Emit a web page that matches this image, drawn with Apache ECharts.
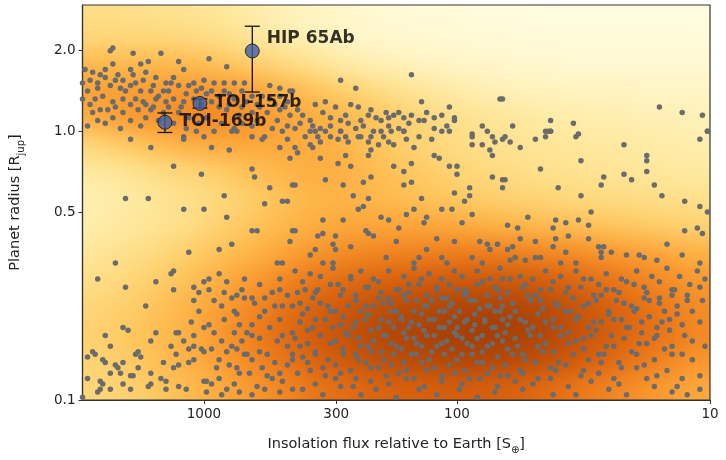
<!DOCTYPE html>
<html>
<head>
<meta charset="utf-8">
<script src="https://cdn.jsdelivr.net/npm/echarts@6/dist/echarts.min.js"></script>
<style>
html, body { margin: 0; padding: 0; background: #fff; }
#wrap { position: relative; width: 726px; height: 460px; overflow: hidden; }
#clip { position: absolute; left: 82px; top: 5px; width: 628px; height: 395px; overflow: hidden; }
#heat { position: absolute; left: -40px; top: -40px; width: 708px; height: 475px; filter: blur(11px); }
#main { position: absolute; left: 0; top: 0; width: 726px; height: 460px; }
</style>
</head>
<body>
<div id="wrap"><div id="clip"><div id="heat"></div></div><div id="main"></div></div>
<script>
// tick labels
var fluxTicks = [1000, 300, 100, 10];
var radiusTicks = [0.1, 0.5, 1.0, 2.0];

// density shading (0..10), rows = log10 radius 0.45 .. -0.95, cols = log10 flux 3.45 .. 1.05
var densityRows = [
  [2.5,2.5,2.4,2.3,2.2,2,1.7,1.4,1.1,0.9,0.7,0.5,0.4,0.3,0.3,0.2,0.2,0.2,0.1,0.1,0.1,0.1,0.1,0.1,0.1],
  [3,3,3,3,2.8,2.6,2.2,1.8,1.4,1.1,0.9,0.7,0.6,0.5,0.5,0.4,0.4,0.3,0.3,0.3,0.3,0.3,0.3,0.3,0.3],
  [4.5,4.5,4.5,4.5,4.4,4.1,3.7,3.2,2.7,2.2,1.7,1.4,1.2,1,0.9,0.8,0.7,0.6,0.6,0.5,0.5,0.5,0.5,0.5,0.5],
  [5.5,5.6,5.7,5.8,6,6,5.7,5.2,4.6,4,3.5,3,2.5,2.1,1.8,1.5,1.3,1.2,1.1,1,1,1,0.9,0.9,0.9],
  [5,5.5,6,6.2,6.5,6.5,6.2,5.7,5.2,5,4.6,4.1,3.6,3.1,2.6,2.3,2.1,1.9,1.7,1.6,1.5,1.4,1.3,1.3,1.2],
  [3,3.5,4,4.5,4.9,5.1,5.2,5.2,5.1,5,4.6,4.1,3.6,3.2,2.9,2.6,2.4,2.2,2.1,2,1.9,1.8,1.7,1.6,1.5],
  [1.8,2,2.4,2.8,3.1,3.5,4,4.4,4.8,5,4.9,4.5,4.1,3.7,3.3,3,2.8,2.6,2.4,2.3,2.2,2.1,2,1.9,1.8],
  [1.4,1.6,1.9,2.2,2.5,2.9,3.3,3.8,4.3,4.6,4.7,4.6,4.4,4.1,3.9,3.6,3.4,3.2,3.1,2.9,2.8,2.7,2.6,2.5,2.4],
  [1.5,1.8,2,2.3,2.7,3.2,3.7,4.2,4.6,5,5.2,5.3,5.3,5.3,5.2,5,4.8,4.6,4.4,4.2,4,3.8,3.6,3.4,3.2],
  [2,2.3,2.6,3,3.5,4,4.5,5,5.5,6,6.3,6.5,6.6,6.7,6.8,6.8,6.8,6.7,6.5,6.3,6,5.7,5.4,5.1,4.8],
  [2.5,2.8,3.2,3.7,4.2,4.8,5.5,6,6.7,7.2,7.5,7.8,8,8.2,8.3,8.4,8.4,8.3,8.1,7.8,7.4,7,6.6,6.2,5.8],
  [3,3.3,3.7,4.2,4.8,5.5,6.2,6.8,7.5,8,8.5,8.8,9.1,9.3,9.5,9.6,9.6,9.5,9.2,8.8,8.3,7.8,7.3,6.8,6.3],
  [3.3,3.6,4,4.5,5,5.7,6.5,7.2,7.8,8.4,8.8,9.2,9.5,9.7,9.9,10,10,9.8,9.5,9,8.5,8,7.5,7,6.5],
  [3.2,3.5,3.9,4.4,4.9,5.5,6.2,6.8,7.4,8,8.4,8.8,9.1,9.3,9.4,9.5,9.4,9.2,8.9,8.5,8,7.5,7,6.5,6],
  [3,3.2,3.5,4,4.5,5,5.6,6.2,6.7,7.2,7.5,7.8,8,8.1,8.2,8.2,8.1,7.9,7.6,7.2,6.8,6.4,6,5.6,5.2]
];

// planets as [log10 flux, log10 radius]
var giants = [
  [3.36,0.31],[3.37,0.30],[3.28,0.29],[3.17,0.29],[3.22,0.26],[3.10,0.26],[2.98,0.27],[2.91,0.24],[3.25,0.25],[3.29,0.23],
  [3.36,0.25],[3.39,0.23],[3.44,0.22],[3.47,0.23],[3.48,0.18],[3.42,0.18],[3.39,0.20],[3.34,0.21],[3.32,0.19],[3.28,0.21],
  [3.23,0.22],[3.19,0.20],[3.15,0.18],[3.12,0.20],[3.08,0.23],[3.04,0.18],[3.00,0.19],[2.96,0.18],[2.92,0.18],[2.88,0.18],
  [2.84,0.18],[3.46,0.15],[3.42,0.16],[3.37,0.17],[3.33,0.16],[3.29,0.17],[3.25,0.15],[3.21,0.15],[3.18,0.13],[3.14,0.15],
  [3.10,0.17],[3.07,0.14],[3.03,0.15],[2.99,0.14],[2.92,0.15],[2.88,0.12],[2.74,0.17],[2.70,0.16],[2.66,0.15],[3.48,0.12],
  [3.43,0.12],[3.40,0.13],[3.36,0.11],[3.32,0.12],[3.27,0.12],[3.23,0.10],[3.19,0.12],[3.15,0.11],[3.12,0.12],[3.08,0.11],
  [3.04,0.12],[2.77,0.13],[2.74,0.12],[2.70,0.13],[2.67,0.11],[3.44,0.07],[3.38,0.08],[3.32,0.07],[3.26,0.08],[3.21,0.08],
  [3.16,0.07],[3.10,0.07],[3.06,0.05],[2.91,0.08],[2.86,0.06],[2.81,0.07],[2.75,0.07],[2.70,0.08],[2.66,0.06],[3.46,0.02],
  [3.39,0.03],[3.33,0.01],[3.25,0.02],[3.07,0.01],[3.02,0.03],[2.96,0.00],[2.88,0.01],[2.81,0.02],[2.73,0.01],[2.67,0.02],
  [2.46,0.19],[2.40,0.16],[2.18,0.21],[2.14,0.11],[2.03,0.09],[1.83,0.12],[2.65,0.15],[2.56,0.10],[2.52,0.11],[2.48,0.09],
  [2.42,0.10],[2.39,0.09],[2.34,0.08],[2.32,0.05],[2.30,0.04],[2.27,0.05],[2.25,0.06],[2.23,0.07],[2.21,0.05],[2.19,0.03],
  [2.15,0.04],[2.13,0.04],[2.09,0.05],[2.01,0.05],[2.01,0.04],[2.04,0.02],[2.09,0.01],[1.90,0.02],[1.94,-0.01],[2.53,0.07],
  [2.50,0.05],[2.46,0.04],[2.43,0.03],[2.58,0.04],[2.61,0.06],[2.63,0.08],[2.64,0.01],[2.58,0.00],[2.54,0.01],[2.52,0.00],
  [2.46,0.00],[2.40,0.01],[2.37,0.02],[2.33,0.00],[2.27,0.02],[2.23,0.01],[2.21,0.00],[2.30,0.00],
  [1.82,0.12],[1.78,0.02],[1.63,0.04],[1.65,0.00],[1.63,0.00],[1.54,0.03],[1.52,-0.01],[1.20,0.09],[1.11,0.07],[1.03,0.06],[1.01,0.00]
];
var giantsCore = [
  [3.45,0.19],[3.41,0.21],[3.35,0.19],[3.31,0.15],[3.27,0.18],[3.24,0.19],[3.20,0.17],[3.16,0.15],[3.13,0.18],[3.06,0.17],
  [3.01,0.16],[2.97,0.15],[2.94,0.13],[2.90,0.14],[2.85,0.15],[2.81,0.13],[2.79,0.10],[2.72,0.10],[2.68,0.09],[3.45,0.10],
  [3.41,0.08],[3.35,0.09],[3.29,0.10],[3.24,0.11],[3.20,0.09],[3.14,0.09],[3.09,0.09],[3.01,0.10],[2.97,0.11],[2.94,0.09],
  [2.90,0.10],[2.85,0.09],[2.83,0.11],[2.78,0.09],[3.42,0.04],[3.36,0.05],[3.29,0.04],[3.23,0.05],[3.18,0.04],[3.12,0.03],
  [2.99,0.05],[2.93,0.03],[2.85,0.03],[2.79,0.04],[2.71,0.04],[2.62,0.03],[2.57,0.02],[2.50,0.02],[2.44,0.06],[2.38,0.04],
  [2.35,0.06],[2.28,0.07],[2.18,0.06],[2.12,0.07],[2.06,0.06],[2.43,-0.04],[2.50,-0.02],[2.29,-0.02],[2.20,-0.03],[2.10,-0.03]
];
var desert = [
  [3.29,-0.03],[3.21,-0.06],[3.08,-0.02],[3.08,-0.03],[3.03,0.00],[3.00,-0.02],[2.97,-0.06],[2.90,-0.07],[2.89,0.00],[2.87,0.00],
  [2.81,-0.02],[2.77,-0.03],[2.76,-0.02],[2.70,-0.06],[2.69,0.00],[2.67,-0.03],[2.66,-0.10],[3.12,-0.13],[3.01,-0.16],[2.81,-0.14],
  [2.80,-0.17],[2.74,-0.21],[2.65,-0.20],[3.31,-0.25],[3.22,-0.25],[2.92,-0.24],[3.08,-0.29],[3.00,-0.29],[2.76,-0.27],[2.69,-0.26],
  [2.67,-0.26],[2.91,-0.32],[2.81,-0.37],[2.79,-0.37],[2.65,-0.37],[2.66,-0.41],[2.89,-0.42],[2.94,-0.44],[3.06,-0.45],[3.35,-0.49],
  [2.71,-0.49],[2.69,-0.49],
  [2.60,-0.02],[2.56,0.00],[2.55,-0.02],[2.54,-0.04],[2.58,-0.05],[2.57,-0.06],[2.64,-0.06],[2.63,-0.08],[2.46,0.00],[2.47,-0.03],
  [2.44,-0.02],[2.39,-0.02],[2.38,-0.02],[2.34,-0.02],[2.35,-0.04],[2.31,-0.05],[2.35,-0.09],[2.34,-0.07],[2.27,-0.04],[2.25,-0.05],
  [2.26,0.00],[2.21,0.00],[2.17,-0.06],[2.15,-0.02],[2.06,0.00],[2.03,0.00],[1.94,-0.02],[1.94,-0.05],[1.90,-0.05],[1.88,0.00],
  [1.86,-0.02],[1.85,-0.04],[1.87,-0.07],[1.86,-0.09],[2.54,-0.10],[2.44,-0.09],[2.47,-0.12],[2.42,-0.13],[2.25,-0.13],[2.21,-0.15],
  [2.18,-0.12],[2.09,-0.09],[2.07,-0.10],[2.03,-0.13],[2.00,-0.13],[2.00,-0.16],[1.86,-0.17],[1.82,-0.18],[2.64,-0.20],[2.52,-0.18],
  [2.45,-0.20],[2.37,-0.19],[2.34,-0.17],[2.21,-0.20],[2.18,-0.19],[2.01,-0.23],[1.95,-0.21],[1.95,-0.24],[2.41,-0.24],[2.35,-0.25],
  [2.37,-0.28],[2.39,-0.29],[2.14,-0.25],[2.17,-0.29],[2.20,-0.31],[2.06,-0.29],[2.02,-0.29],[1.97,-0.26],[1.94,-0.31],[2.53,-0.33],
  [2.45,-0.33],[2.30,-0.32],[2.27,-0.33],[2.12,-0.32],[2.13,-0.34],[1.98,-0.34],[2.64,-0.37],[2.55,-0.39],[2.53,-0.38],[2.48,-0.39],
  [2.36,-0.37],[2.35,-0.38],[2.33,-0.39],[2.23,-0.36],[2.08,-0.40],[2.01,-0.41],[1.91,-0.41],[1.88,-0.42],[2.49,-0.42],[2.48,-0.44],
  [2.42,-0.43],[2.24,-0.41],[2.58,-0.46],[2.56,-0.44],[1.87,-0.44],[1.84,-0.42],[2.12,-0.44],[2.28,-0.47],[2.17,-0.49],[2.15,-0.47],
  [2.06,-0.47],[2.04,-0.49],[1.94,-0.47],[1.90,-0.49],[2.53,-0.49],[2.49,-0.49],
  [1.82,-0.03],[1.81,-0.02],[1.79,-0.04],[1.75,-0.06],[1.69,-0.03],[1.65,-0.02],[1.64,0.00],[1.63,0.00],[1.53,-0.02],[1.34,-0.05],
  [1.04,-0.03],[1.01,0.00],[1.25,-0.09],[1.25,-0.11],[1.51,-0.11],[1.67,-0.14],[1.42,-0.17],[1.43,-0.20],[1.34,-0.16],[1.31,-0.18],
  [1.25,-0.15],[1.81,-0.18],[1.82,-0.21],[1.60,-0.21],[1.51,-0.24],[1.22,-0.20],[1.19,-0.24],[1.10,-0.26],[1.04,-0.28],[1.01,-0.30],
  [1.47,-0.30],[1.72,-0.32],[1.52,-0.33],[1.61,-0.33],[1.57,-0.34],[1.80,-0.35],[1.76,-0.36],[1.62,-0.36],[1.48,-0.35],[1.10,-0.37],
  [1.05,-0.36],[1.03,-0.38],[1.75,-0.40],[1.69,-0.41],[1.61,-0.40],[1.56,-0.39],[1.48,-0.40],[1.17,-0.42],[1.80,-0.44],[1.78,-0.43],
  [1.62,-0.43],[1.44,-0.43],[1.42,-0.43],[1.43,-0.45],[1.43,-0.47],[1.39,-0.45],[1.33,-0.46],[1.28,-0.46],[1.26,-0.47],[1.11,-0.46],
  [1.57,-0.45],[1.79,-0.48],[1.77,-0.47],[1.73,-0.48],[1.69,-0.47],[1.67,-0.47],[1.59,-0.49],[1.53,-0.49],[1.21,-0.48],[1.04,-0.49]
];
var smallPlanets = [
  [3.42,-0.55],[3.31,-0.58],[3.19,-0.56],[3.13,-0.53],[3.12,-0.52],[3.12,-0.59],[3.04,-0.58],[3.02,-0.60],[3.00,-0.56],[2.98,-0.55],
  [2.98,-0.59],[2.94,-0.53],[2.91,-0.56],[2.84,-0.55],[3.04,-0.63],[3.23,-0.65],[2.93,-0.65],[3.02,-0.67],[2.89,-0.62],[2.87,-0.61],
  [2.84,-0.62],[2.81,-0.62],[2.88,-0.67],[2.87,-0.68],[2.76,-0.62],[2.76,-0.67],[2.73,-0.60],[2.70,-0.59],[2.67,-0.61],[2.69,-0.65],
  [2.81,-0.72],[2.83,-0.75],[2.81,-0.76],[3.05,-0.71],[3.32,-0.73],[3.30,-0.74],[3.39,-0.76],[3.19,-0.75],[3.21,-0.78],[3.11,-0.75],
  [3.10,-0.75],[3.04,-0.76],[3.00,-0.73],[2.98,-0.72],[2.96,-0.75],[2.88,-0.75],[3.46,-0.84],[3.44,-0.82],[3.43,-0.83],[3.40,-0.85],
  [3.39,-0.86],[3.37,-0.80],[3.35,-0.87],[3.32,-0.86],[3.26,-0.82],[3.25,-0.84],[3.27,-0.83],[3.11,-0.83],[3.06,-0.81],[3.04,-0.80],
  [3.01,-0.81],[3.00,-0.82],[2.97,-0.81],[2.94,-0.85],[2.91,-0.82],[2.89,-0.80],[2.87,-0.81],[2.84,-0.83],[2.83,-0.83],[2.81,-0.85],
  [2.78,-0.82],[2.75,-0.83],[2.71,-0.78],[2.69,-0.76],[2.67,-0.80],[2.65,-0.75],[2.65,-0.83],[3.46,-0.92],[3.37,-0.90],[3.33,-0.90],
  [3.29,-0.91],[3.28,-0.91],[3.26,-0.88],[3.21,-0.90],[3.17,-0.92],[3.12,-0.88],[3.10,-0.87],[3.06,-0.86],[3.04,-0.85],[3.34,-0.88],
  [3.41,-0.93],[3.40,-0.94],[3.42,-0.97],[3.41,-0.96],[3.37,-0.96],[3.32,-0.94],[3.29,-0.96],[3.22,-0.95],[3.21,-0.94],[3.15,-0.93],
  [3.15,-0.96],[3.10,-0.95],[3.07,-0.96],[3.00,-0.93],[2.99,-0.93],[2.97,-0.94],[2.94,-0.92],[2.91,-0.96],[2.88,-0.94],[2.86,-0.97],
  [2.81,-0.98],[2.79,-0.95],[2.75,-0.91],[2.73,-0.92],[2.70,-0.90],[2.69,-0.93],[2.67,-0.87],[2.65,-0.85],[2.90,-0.87],[2.87,-0.88],
  [2.86,-0.90],[2.70,-0.97],[2.65,-0.96],[3.48,-0.99],
  [2.64,-0.52],[2.58,-0.53],[2.54,-0.54],[2.49,-0.51],[2.42,-0.54],[2.38,-0.52],[2.33,-0.55],[2.27,-0.52],[2.21,-0.54],[2.17,-0.51],
  [2.11,-0.53],[2.06,-0.55],[2.01,-0.52],[1.98,-0.54],[1.92,-0.52],[1.87,-0.55],[1.83,-0.51],
  [2.63,-0.60],[2.60,-0.59],[2.56,-0.60],[2.50,-0.57],[2.45,-0.59],[2.40,-0.61],[2.35,-0.58],[2.30,-0.60],[2.27,-0.62],[2.23,-0.59],
  [2.19,-0.60],[2.15,-0.57],[2.12,-0.61],[2.08,-0.59],[2.04,-0.62],[2.00,-0.59],[1.96,-0.60],[1.92,-0.57],[1.88,-0.61],[1.84,-0.59],
  [2.65,-0.65],[2.59,-0.66],[2.54,-0.64],[2.48,-0.67],[2.43,-0.65],[2.38,-0.67],[2.33,-0.65],[2.29,-0.64],[2.24,-0.67],[2.20,-0.63],
  [2.17,-0.67],[2.13,-0.65],[2.10,-0.63],[2.07,-0.67],[2.03,-0.65],[1.99,-0.67],[1.95,-0.63],[1.91,-0.66],[1.87,-0.65],[1.83,-0.67],
  [2.62,-0.71],[2.57,-0.73],[2.52,-0.70],[2.46,-0.72],[2.41,-0.73],[2.36,-0.70],[2.31,-0.73],[2.27,-0.71],[2.22,-0.70],[2.19,-0.73],
  [2.15,-0.72],[2.11,-0.70],[2.07,-0.73],[2.03,-0.71],[2.00,-0.73],[1.96,-0.70],[1.93,-0.72],[1.89,-0.71],[1.85,-0.73],[1.82,-0.70],
  [2.64,-0.77],[2.59,-0.79],[2.54,-0.76],[2.48,-0.78],[2.43,-0.76],[2.38,-0.80],[2.33,-0.78],[2.28,-0.76],[2.24,-0.80],[2.20,-0.77],
  [2.16,-0.79],[2.12,-0.76],[2.08,-0.80],[2.04,-0.78],[2.00,-0.76],[1.96,-0.79],[1.92,-0.77],[1.88,-0.80],[1.84,-0.76],
  [2.61,-0.84],[2.56,-0.83],[2.51,-0.85],[2.45,-0.83],[2.39,-0.85],[2.34,-0.82],[2.29,-0.85],[2.25,-0.83],[2.21,-0.86],[2.16,-0.83],
  [2.11,-0.85],[2.05,-0.83],[2.00,-0.85],[1.94,-0.83],[1.90,-0.86],[1.84,-0.84],
  [2.63,-0.90],[2.58,-0.89],[2.52,-0.91],[2.46,-0.90],[2.40,-0.92],[2.34,-0.88],[2.28,-0.91],[2.23,-0.90],[2.17,-0.92],[2.12,-0.89],
  [2.06,-0.91],[2.01,-0.90],[1.95,-0.92],[1.88,-0.90],[1.83,-0.91],
  [2.61,-0.96],[2.53,-0.98],[2.46,-0.95],[2.38,-0.98],[2.32,-0.96],[2.24,-0.99],[2.15,-0.96],[2.08,-0.98],[1.99,-0.96],[1.92,-0.99],[1.85,-0.97],
  [1.82,-0.55],[1.75,-0.54],[1.70,-0.55],[1.65,-0.52],[1.59,-0.54],[1.53,-0.52],[1.47,-0.55],[1.41,-0.53],[1.35,-0.55],[1.29,-0.52],
  [1.23,-0.54],[1.17,-0.51],[1.12,-0.54],[1.05,-0.52],[1.02,-0.55],
  [1.80,-0.60],[1.74,-0.58],[1.69,-0.61],[1.63,-0.59],[1.57,-0.60],[1.51,-0.58],[1.46,-0.61],[1.41,-0.59],[1.36,-0.60],[1.30,-0.57],
  [1.25,-0.60],[1.20,-0.62],[1.15,-0.59],[1.09,-0.61],[1.04,-0.58],
  [1.82,-0.65],[1.77,-0.67],[1.71,-0.63],[1.66,-0.66],[1.61,-0.64],[1.55,-0.67],[1.50,-0.65],[1.45,-0.63],[1.40,-0.67],[1.34,-0.64],
  [1.29,-0.66],[1.24,-0.63],[1.18,-0.67],[1.13,-0.65],[1.07,-0.67],[1.03,-0.63],
  [1.80,-0.72],[1.75,-0.70],[1.70,-0.73],[1.65,-0.71],[1.59,-0.73],[1.53,-0.70],[1.48,-0.73],[1.43,-0.71],[1.38,-0.70],[1.32,-0.73],
  [1.27,-0.71],[1.21,-0.73],[1.16,-0.70],[1.11,-0.72],[1.04,-0.71],
  [1.82,-0.78],[1.76,-0.80],[1.71,-0.76],[1.65,-0.79],[1.59,-0.76],[1.53,-0.78],[1.47,-0.76],[1.41,-0.80],[1.34,-0.77],[1.28,-0.79],
  [1.21,-0.76],[1.15,-0.80],[1.07,-0.78],[1.02,-0.80],
  [1.78,-0.83],[1.73,-0.85],[1.66,-0.82],[1.60,-0.86],[1.54,-0.83],[1.48,-0.85],[1.42,-0.83],[1.36,-0.86],[1.29,-0.83],[1.22,-0.85],
  [1.15,-0.83],[1.07,-0.85],
  [1.80,-0.91],[1.74,-0.90],[1.68,-0.92],[1.61,-0.89],[1.51,-0.91],[1.44,-0.90],[1.38,-0.92],[1.29,-0.88],[1.21,-0.91],[1.11,-0.92],[1.04,-0.91],
  [1.74,-0.96],[1.62,-0.98],[1.53,-0.98],[1.40,-0.96],[1.33,-0.98],[1.22,-0.95],[1.15,-0.97],[1.09,-0.98],[1.04,-0.96]
];
var smallCore = [
  [2.61,-0.56],[2.55,-0.59],[2.47,-0.57],[2.42,-0.55],[2.36,-0.58],[2.31,-0.56],[2.24,-0.59],[2.19,-0.57],[2.14,-0.55],[2.08,-0.58],
  [2.03,-0.57],[1.97,-0.59],[1.90,-0.56],[1.85,-0.58],[1.79,-0.55],[1.73,-0.57],[1.67,-0.59],[1.62,-0.56],[1.56,-0.58],[1.50,-0.55],
  [1.44,-0.57],[1.38,-0.59],[1.33,-0.56],[1.26,-0.58],[1.20,-0.56],[1.14,-0.59],[1.08,-0.57],
  [2.62,-0.64],[2.57,-0.62],[2.51,-0.65],[2.46,-0.61],[2.40,-0.63],[2.36,-0.65],[2.31,-0.62],[2.26,-0.64],[2.21,-0.61],[2.16,-0.63],
  [2.12,-0.65],[2.06,-0.62],[2.02,-0.64],[1.97,-0.61],[1.93,-0.63],[1.88,-0.65],[1.83,-0.62],[1.78,-0.64],[1.72,-0.61],[1.67,-0.63],
  [1.60,-0.65],[1.54,-0.62],[1.48,-0.64],[1.43,-0.61],[1.37,-0.63],[1.31,-0.65],[1.26,-0.62],[1.20,-0.64],[1.15,-0.61],[1.09,-0.63],
  [2.61,-0.68],[2.56,-0.70],[2.50,-0.67],[2.45,-0.69],[2.40,-0.71],[2.35,-0.68],[2.30,-0.70],[2.26,-0.67],[2.22,-0.69],[2.18,-0.71],
  [2.14,-0.68],[2.09,-0.70],[2.05,-0.67],[2.01,-0.69],[1.97,-0.71],[1.93,-0.68],[1.89,-0.70],[1.85,-0.67],[1.79,-0.69],[1.73,-0.71],
  [1.68,-0.68],[1.62,-0.70],[1.57,-0.67],[1.52,-0.69],[1.46,-0.71],[1.40,-0.68],[1.35,-0.70],[1.30,-0.67],[1.24,-0.69],[1.19,-0.71],[1.13,-0.68],
  [2.59,-0.74],[2.54,-0.76],[2.49,-0.73],[2.44,-0.75],[2.39,-0.77],[2.34,-0.74],[2.29,-0.76],[2.25,-0.73],[2.21,-0.75],[2.17,-0.77],
  [2.13,-0.74],[2.09,-0.76],[2.05,-0.73],[2.01,-0.75],[1.98,-0.77],[1.94,-0.74],[1.90,-0.76],[1.86,-0.73],[1.81,-0.75],[1.77,-0.77],
  [1.72,-0.74],[1.67,-0.76],[1.62,-0.73],[1.56,-0.75],[1.50,-0.77],[1.45,-0.74],[1.39,-0.76],[1.33,-0.73],[1.27,-0.75],[1.22,-0.77],[1.16,-0.74],[1.10,-0.76],
  [2.62,-0.80],[2.56,-0.82],[2.50,-0.79],[2.45,-0.81],[2.40,-0.83],[2.35,-0.80],[2.30,-0.82],[2.26,-0.79],[2.22,-0.81],[2.18,-0.83],
  [2.14,-0.80],[2.10,-0.82],[2.06,-0.79],[2.02,-0.81],[1.98,-0.83],[1.94,-0.80],[1.90,-0.82],[1.86,-0.79],[1.80,-0.81],[1.74,-0.83],
  [1.68,-0.80],[1.62,-0.82],[1.56,-0.79],[1.50,-0.81],[1.44,-0.83],[1.38,-0.80],[1.31,-0.82],[1.25,-0.79],[1.18,-0.81],[1.11,-0.83],
  [2.59,-0.86],[2.53,-0.88],[2.48,-0.87],[2.42,-0.89],[2.36,-0.86],[2.31,-0.88],[2.26,-0.87],[2.20,-0.89],[2.14,-0.86],[2.09,-0.88],
  [2.03,-0.87],[1.97,-0.89],[1.92,-0.86],[1.86,-0.88],[1.81,-0.87],[1.75,-0.89],[1.69,-0.86],[1.63,-0.88],[1.57,-0.87],[1.50,-0.89],
  [1.43,-0.86],[1.35,-0.88],[1.26,-0.87],[1.17,-0.89],
  [2.56,-0.94],[2.48,-0.92],[2.41,-0.95],[2.34,-0.93],[2.27,-0.94],[2.20,-0.92],[2.13,-0.95],[2.06,-0.93],[1.98,-0.94],[1.91,-0.92],
  [1.84,-0.95],[1.77,-0.93],[1.70,-0.94],[1.63,-0.92],[1.56,-0.95],[1.47,-0.93],[1.36,-0.94],[1.25,-0.92],[1.13,-0.95],
  [2.92,-0.70],[2.86,-0.72],[2.78,-0.69],[2.74,-0.73],[2.70,-0.70],[2.93,-0.78],[2.85,-0.78],[2.78,-0.77],[2.72,-0.86],[2.77,-0.88],
  [2.82,-0.90],[2.95,-0.88],[2.99,-0.97],[2.93,-0.98],[2.76,-0.96],[2.80,-0.64],[2.72,-0.65],[2.85,-0.59],[2.78,-0.57],[2.70,-0.55],
  [2.96,-0.63],[2.92,-0.60],[3.08,-0.78],[3.13,-0.80],[3.16,-0.86]
];

// highlighted planets
var planetNames = ['HIP 65Ab', 'TOI-157b', 'TOI-169b'];
var planetFlux = [644, 1037, 1426];
var planetRadius = [1.99, 1.27, 1.08];
var radiusLow = [1.40, 1.22, 0.99];
var radiusHigh = [2.46, 1.32, 1.17];

var font = 'DejaVu Sans';
var lg = Math.log10;

// ---- background density, blurred underneath the main chart ----
var heat = echarts.init(document.getElementById('heat'));
var cells = [];
densityRows.forEach(function (row, j) {
  row.forEach(function (v, i) {
    cells.push([3.45 - 0.1 * i, 0.45 - 0.1 * j, v, i, j]);
  });
});
heat.setOption({
  animation: false,
  grid: { left: 40, top: 40, width: 628, height: 395 },
  xAxis: { type: 'value', min: 1, max: 3.48, inverse: true, show: false },
  yAxis: { type: 'value', min: -1, max: 0.47, show: false },
  visualMap: {
    show: false, min: 0, max: 10, dimension: 2, seriesIndex: 0,
    inRange: { color: ['#fffde3', '#fff3c0', '#fee79a', '#fed77a', '#fec45a', '#fdad40', '#f8952c', '#ec7a1a', '#d9620e', '#c04f08', '#a43e05'] }
  },
  series: [{
    type: 'custom',
    clip: false,
    data: cells,
    encode: { x: 0, y: 1 },
    renderItem: function (params, api) {
      var i = api.value(3), j = api.value(4);
      var a = api.coord([3.5 - 0.1 * i, 0.5 - 0.1 * j]);
      var b = api.coord([3.4 - 0.1 * i, 0.4 - 0.1 * j]);
      var x0 = Math.min(a[0], b[0]), x1 = Math.max(a[0], b[0]);
      var y0 = Math.min(a[1], b[1]), y1 = Math.max(a[1], b[1]);
      if (i === 0) x0 -= 40;
      if (i === densityRows[0].length - 1) x1 += 40;
      if (j === 0) y0 -= 40;
      if (j === densityRows.length - 1) y1 += 40;
      return {
        type: 'rect',
        shape: { x: x0, y: y0, width: x1 - x0 + 1, height: y1 - y0 + 1 },
        style: { fill: api.visual('color') }
      };
    }
  }]
});

// ---- main chart ----
var chart = echarts.init(document.getElementById('main'));

function dots(data) {
  return {
    type: 'scatter',
    data: data,
    symbolSize: 5.5,
    itemStyle: { color: '#6b6b6b', opacity: 1 },
    silent: true
  };
}

var errData = planetNames.map(function (n, k) {
  return [lg(planetFlux[k]), lg(radiusLow[k]), lg(radiusHigh[k])];
});
var planetData = planetNames.map(function (n, k) {
  return {
    name: n,
    value: [lg(planetFlux[k]), lg(planetRadius[k])],
    label: { offset: k === 0 ? [0, -12] : [0, -1] }
  };
});

var richName = {
  a: { fontSize: 14.5, color: '#222', fontFamily: font, lineHeight: 22 },
  s: { fontSize: 10, color: '#222', fontFamily: font, lineHeight: 12, verticalAlign: 'bottom' }
};

chart.setOption({
  animation: false,
  textStyle: { fontFamily: font },
  grid: { left: 82, top: 5, width: 628, height: 395, show: true, borderColor: '#333', borderWidth: 1.2, backgroundColor: 'transparent' },
  xAxis: {
    type: 'value', min: 1, max: 3.48, inverse: true,
    name: '{a|Insolation flux relative to Earth [S}{s|⊕}{a|]}',
    nameLocation: 'middle', nameGap: 33,
    nameTextStyle: { rich: richName },
    axisLine: { show: true, onZero: false, lineStyle: { color: '#333', width: 1.2 } },
    axisTick: { show: true, length: 4, customValues: fluxTicks.map(lg), lineStyle: { color: '#333' } },
    axisLabel: {
      customValues: fluxTicks.map(lg), fontSize: 13.5, color: '#222', margin: 7, fontFamily: font,
      formatter: function (v) { return String(Math.round(Math.pow(10, v))); }
    },
    splitLine: { show: false }
  },
  yAxis: {
    type: 'value', min: -1, max: 0.47,
    name: '{a|Planet radius [R}{s|jup}{a|]}',
    nameLocation: 'middle', nameGap: 56,
    nameTextStyle: { rich: richName },
    axisLine: { show: true, onZero: false, lineStyle: { color: '#333', width: 1.2 } },
    axisTick: { show: true, length: 4, customValues: radiusTicks.map(lg), lineStyle: { color: '#333' } },
    axisLabel: {
      customValues: radiusTicks.map(lg), fontSize: 13.5, color: '#222', margin: 7, fontFamily: font,
      formatter: function (v) { return Math.pow(10, v).toFixed(1); }
    },
    splitLine: { show: false }
  },
  series: [
    dots(giants),
    dots(giantsCore),
    dots(desert),
    dots(smallPlanets),
    dots(smallCore),
    {
      type: 'custom',
      data: errData,
      encode: { x: 0, y: [1, 2] },
      z: 3,
      renderItem: function (params, api) {
        var lo = api.coord([api.value(0), api.value(1)]);
        var hi = api.coord([api.value(0), api.value(2)]);
        var w = 7.5;
        var st = { stroke: '#111', lineWidth: 1.3 };
        return {
          type: 'group',
          children: [
            { type: 'line', shape: { x1: lo[0], y1: lo[1], x2: hi[0], y2: hi[1] }, style: st },
            { type: 'line', shape: { x1: lo[0] - w, y1: lo[1], x2: lo[0] + w, y2: lo[1] }, style: st },
            { type: 'line', shape: { x1: hi[0] - w, y1: hi[1], x2: hi[0] + w, y2: hi[1] }, style: st }
          ]
        };
      }
    },
    {
      type: 'scatter',
      data: planetData,
      z: 4,
      symbolSize: 14,
      itemStyle: { color: '#3d5fa8', borderColor: '#111', borderWidth: 1 },
      label: {
        show: true, position: 'right', distance: 7, formatter: '{b}',
        fontFamily: font, fontWeight: 'bold', fontSize: 17, color: '#000'
      }
    }
  ]
});
</script>
</body>
</html>
